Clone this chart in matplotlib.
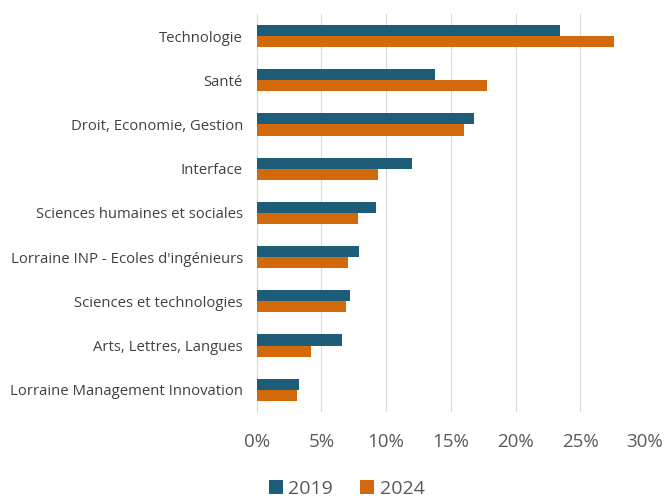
"""Horizontal grouped bar chart: share per domain, 2019 vs 2024."""

import matplotlib

matplotlib.use("Agg")
import matplotlib.pyplot as plt
import numpy as np
from matplotlib.ticker import FuncFormatter

plt.rcParams["font.family"] = ["Open Sans", "DejaVu Sans"]

categories = [
    "Technologie",
    "Santé",
    "Droit, Economie, Gestion",
    "Interface",
    "Sciences humaines et sociales",
    "Lorraine INP - Ecoles d'ingénieurs",
    "Sciences et technologies",
    "Arts, Lettres, Langues",
    "Lorraine Management Innovation",
]
values_2019 = [23.4, 13.8, 16.8, 12.0, 9.2, 7.9, 7.2, 6.6, 3.25]
values_2024 = [27.6, 17.8, 16.0, 9.4, 7.8, 7.05, 6.9, 4.2, 3.1]
x_ticks = [0, 5, 10, 15, 20, 25, 30]

C2019 = "#1D5D7A"
C2024 = "#D2690A"

fig = plt.figure(figsize=(6.67, 4.98), dpi=100)
ax = fig.add_axes([0.385, 0.173, 0.582, 0.799])

y = np.arange(len(categories))
h = 0.25
ax.barh(y - h / 2, values_2019, height=h, color=C2019, label="2019", zorder=3)
ax.barh(y + h / 2, values_2024, height=h, color=C2024, label="2024", zorder=3)

ax.set_ylim(len(categories) - 0.5, -0.5)
ax.set_xlim(0, 30)
ax.set_yticks(y)
ax.set_yticklabels(categories, fontsize=10.7, color="#404040")
ax.set_xticks(x_ticks)
ax.xaxis.set_major_formatter(FuncFormatter(lambda v, _: f"{v:.0f}%"))
ax.tick_params(axis="x", length=0, pad=15, labelsize=13.5, labelcolor="#595959")
ax.tick_params(axis="y", length=0, pad=10)
ax.grid(axis="x", color="#D9D9D9", linewidth=0.8, zorder=0)
for s in ["top", "right", "bottom"]:
    ax.spines[s].set_visible(False)
ax.spines["left"].set_color("#D9D9D9")

fig.legend(
    loc="lower center", bbox_to_anchor=(0.52, -0.035), ncol=2, frameon=False,
    fontsize=14, handlelength=0.7, handleheight=0.7, handletextpad=0.3,
    columnspacing=1.4, labelcolor="#595959",
)

fig.savefig("out.png", dpi=100)
